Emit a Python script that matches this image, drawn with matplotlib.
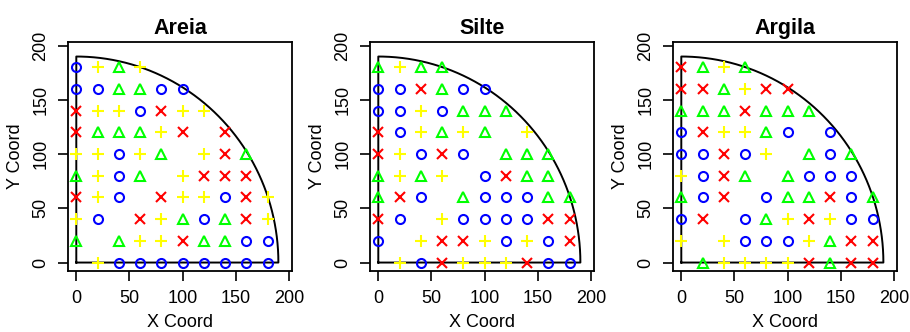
import numpy as np
import matplotlib
matplotlib.use('Agg')
import matplotlib.pyplot as plt

plt.rcParams['font.family'] = ['Liberation Sans', 'DejaVu Sans']

titles = ['Areia', 'Silte', 'Argila']
x_vals = [0, 20, 40, 60, 80, 100, 120, 140, 160, 180]
y_vals = [180, 160, 140, 120, 100, 80, 60, 40, 20, 0]
radius = 190

# o = circle, t = triangle, p = plus, x = cross, . = nothing (rows from y=180 down to y=0)
areia = ["o p t p",
         "o o t t o o",
         "x p p o x p p",
         "x t t t p x . x",
         "p p o p t . p x t",
         "t p o t . p x x x",
         "x p o . x p p o x p",
         "p o . x p t o t x p",
         "t . t p p x t t o o",
         ". p o o o o o o o o"]

silte = ["t p t t",
         "o o x t o o",
         "o o p o t t t",
         "x o p t p t . p",
         "x p o x o . t t t",
         "t p t p . o x t t",
         "t x o . t o o o t t",
         "x o . p o o o o x x",
         "o . p x x p o p o x",
         ". p o x p p p x o o"]

argila = ["x t p t",
          "x x t p x x",
          "t t t x t t t",
          "o x p p t o . o",
          "o o x o p . t o t",
          "p o x t . t o o o",
          "t o x . o t t x o t",
          "o x . o t p x p o o",
          "p . p o o o p t x x",
          ". t p p p p x t x x"]

styles = {'o': dict(marker='o', color='#0000FF', ms=6.5),
          't': dict(marker='^', color='#00FF00', ms=7.5),
          'p': dict(marker='+', color='#FFFF00', ms=9),
          'x': dict(marker='x', color='#FF0000', ms=6.5)}

fig = plt.figure(figsize=(9.1, 3.32), dpi=100)
lefts = [68, 370, 673]

theta = np.linspace(0, np.pi / 2, 200)
bx = np.concatenate([[0], radius * np.cos(theta), [0]])
by = np.concatenate([[0], radius * np.sin(theta), [0]])

for left, title, grid in zip(lefts, titles, [areia, silte, argila]):
    ax = fig.add_axes([left / 910, (332 - 271) / 332, 224 / 910, 229 / 332])
    ax.plot(bx, by, color='black', lw=1.4)
    for yv, row in zip(y_vals, grid):
        for xv, c in zip(x_vals, row.split()):
            if c == '.':
                continue
            s = styles[c]
            ax.plot(xv, yv, linestyle='none', marker=s['marker'], ms=s['ms'],
                    mfc='none', mec=s['color'], mew=1.5)
    ax.set_xlim(-7.8, 202.8)
    ax.set_ylim(-7.8, 203.4)
    ax.set_xticks([0, 50, 100, 150, 200])
    ax.set_yticks([0, 50, 100, 150, 200])
    ax.tick_params(labelsize=13, length=7.5, width=1.2, pad=6)
    for lab in ax.get_yticklabels():
        lab.set_rotation(90)
        lab.set_va('center')
    ax.set_title(title, fontsize=15.5, fontweight='bold', pad=6)
    ax.set_xlabel('X Coord', fontsize=13, labelpad=5)
    ax.set_ylabel('Y Coord', fontsize=13, labelpad=6)
    for sp in ax.spines.values():
        sp.set_linewidth(1.3)

fig.savefig('out.png', dpi=100)
